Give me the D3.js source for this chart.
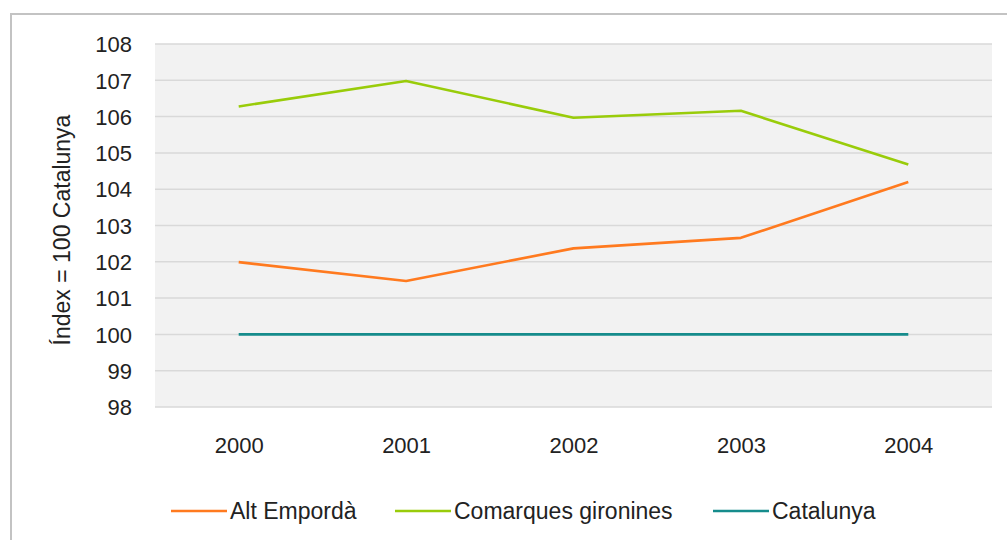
<!DOCTYPE html>
<html>
<head>
<meta charset="utf-8">
<script src="https://cdn.jsdelivr.net/npm/d3@7"></script>
<style>
  html, body { margin: 0; padding: 0; background: #ffffff; }
  svg { display: block; }
  text { font-family: "Liberation Sans", Arial, Helvetica, sans-serif; fill: #222222; }
</style>
</head>
<body>
<svg id="chart" width="1007" height="540"></svg>
<script>
const years = ["2000", "2001", "2002", "2003", "2004"];
const altEmporda = [101.99, 101.47, 102.37, 102.66, 104.2];
const comarquesGironines = [106.28, 106.98, 105.97, 106.16, 104.68];
const catalunya = [100, 100, 100, 100, 100];
const yTicks = [98, 99, 100, 101, 102, 103, 104, 105, 106, 107, 108];
const seriesNames = ["Alt Empordà", "Comarques gironines", "Catalunya"];
const seriesColors = ["#FF7A1F", "#99CC0A", "#168C8C"];
const yTitle = "Índex = 100 Catalunya";

const series = [altEmporda, comarquesGironines, catalunya].map((vals, i) => ({
  name: seriesNames[i], color: seriesColors[i],
  values: vals.map((v, j) => ({ year: years[j], value: v }))
}));

const svg = d3.select("#chart");
const plot = { left: 155, right: 992, top: 44, bottom: 407 };

// outer frame
svg.append("rect")
  .attr("x", 11).attr("y", 14).attr("width", 1100).attr("height", 600)
  .attr("fill", "none").attr("stroke", "#C3C3C3").attr("stroke-width", 2);

const x = d3.scalePoint().domain(years).range([plot.left, plot.right]).padding(0.5);
const y = d3.scaleLinear().domain([98, 108]).range([plot.bottom, plot.top]);

// plot background
svg.append("rect")
  .attr("x", plot.left).attr("y", plot.top)
  .attr("width", plot.right - plot.left).attr("height", plot.bottom - plot.top)
  .attr("fill", "#F2F2F2");

// gridlines
svg.append("g").selectAll("line").data(yTicks).join("line")
  .attr("x1", plot.left).attr("x2", plot.right)
  .attr("y1", d => y(d)).attr("y2", d => y(d))
  .attr("stroke", "#D9D9D9").attr("stroke-width", 1.5);

// y axis labels
const yAxis = d3.axisLeft(y).tickValues(yTicks).tickSize(0).tickPadding(0).tickFormat(d3.format("d"));
const gy = svg.append("g").attr("transform", `translate(132,0)`).call(yAxis);
gy.select(".domain").remove();
gy.selectAll("text").attr("font-size", 22).attr("fill", "#222222")
  .attr("font-family", "Liberation Sans, Arial, sans-serif").attr("dy", "0.35em");

// x axis labels
const xAxis = d3.axisBottom(x).tickSize(0).tickPadding(0);
const gx = svg.append("g").attr("transform", `translate(0,437)`).call(xAxis);
gx.select(".domain").remove();
gx.selectAll("text").attr("font-size", 22).attr("fill", "#222222")
  .attr("font-family", "Liberation Sans, Arial, sans-serif").attr("dy", "0.72em");

// y title
svg.append("text")
  .attr("transform", "translate(70,230) rotate(-90)")
  .attr("text-anchor", "middle")
  .attr("font-size", 23)
  .text(yTitle);

// lines
const line = d3.line().x(d => x(d.year)).y(d => y(d.value));
svg.append("g").selectAll("path").data(series).join("path")
  .attr("d", d => line(d.values))
  .attr("fill", "none")
  .attr("stroke", d => d.color)
  .attr("stroke-width", 2.6)
  .attr("stroke-linejoin", "round");

// legend
const legendX = [171, 395, 713];
const ly = 511;
const legend = svg.append("g");
series.forEach((s, i) => {
  const lx = legendX[i];
  legend.append("line")
    .attr("x1", lx).attr("x2", lx + 56).attr("y1", ly).attr("y2", ly)
    .attr("stroke", s.color).attr("stroke-width", 2.6);
  legend.append("text")
    .attr("x", lx + 59).attr("y", ly).attr("dy", "0.36em")
    .attr("font-size", 23)
    .text(s.name);
});
</script>
</body>
</html>
